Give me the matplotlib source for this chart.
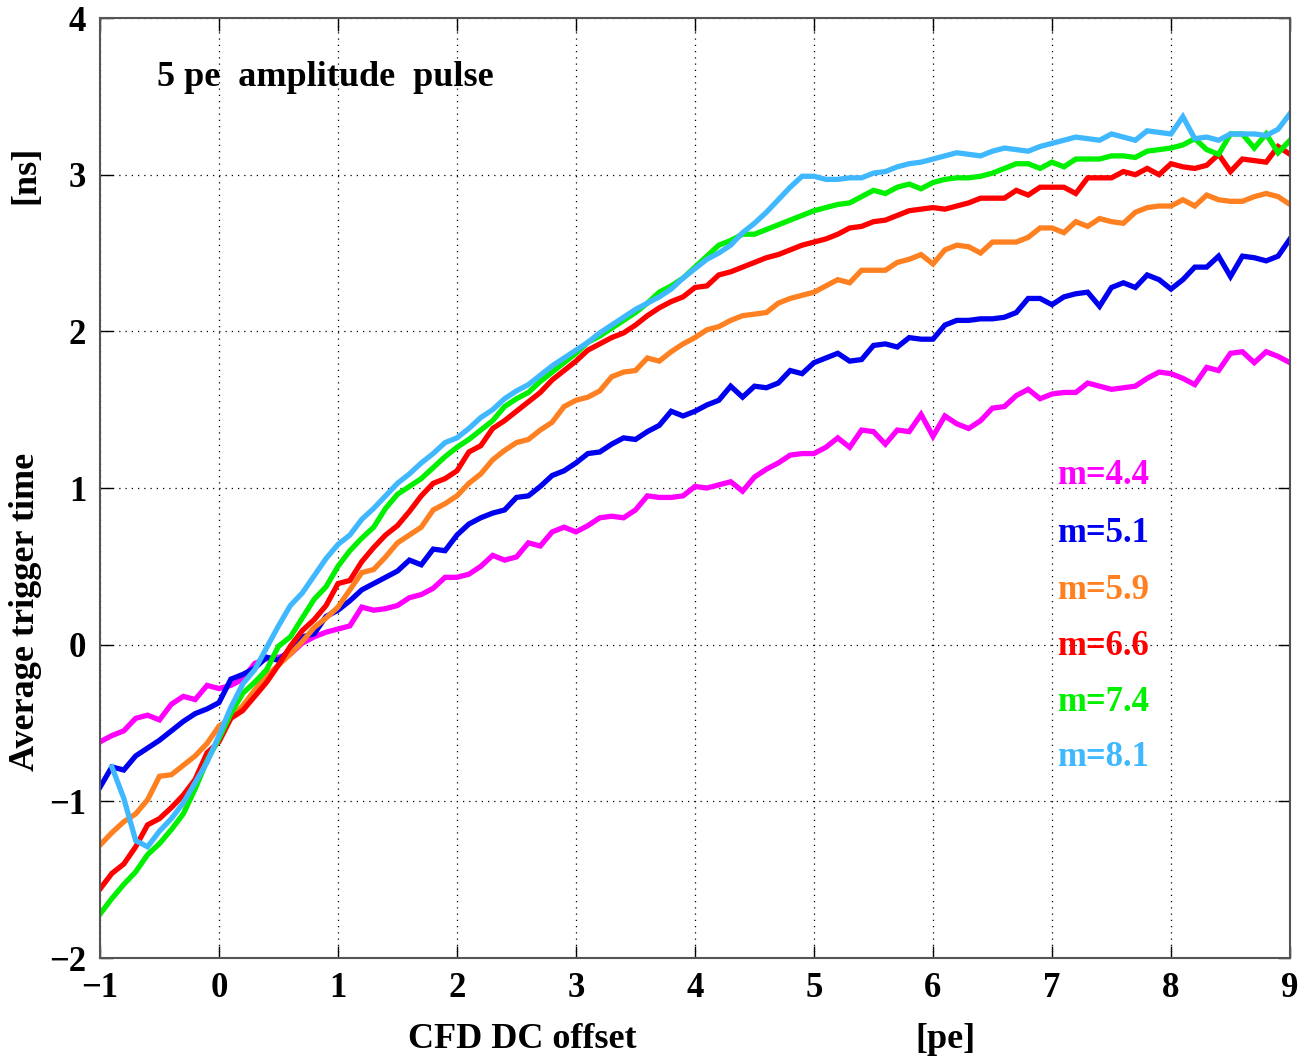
import numpy as np
import matplotlib
matplotlib.use("Agg")
import matplotlib.pyplot as plt

plt.rcParams['font.family'] = ['Liberation Serif', 'DejaVu Serif']
plt.rcParams['font.weight'] = 'bold'

# x grid: CFD DC offset from -1 to 9 in steps of 0.1
offset = np.round(np.arange(-1.0, 9.01, 0.1), 1)

m44 = [-0.62, -0.58, -0.55, -0.47, -0.45, -0.48, -0.38, -0.33, -0.35, -0.26,
       -0.28, -0.26, -0.22, -0.12, -0.09, -0.08, -0.06, 0.01, 0.05, 0.08,
       0.10, 0.12, 0.24, 0.22, 0.23, 0.25, 0.30, 0.32, 0.36, 0.43,
       0.43, 0.45, 0.50, 0.57, 0.54, 0.56, 0.65, 0.63, 0.72, 0.75,
       0.72, 0.76, 0.81, 0.82, 0.81, 0.86, 0.95, 0.94, 0.94, 0.95,
       1.01, 1.00, 1.02, 1.04, 0.98, 1.07, 1.12, 1.16, 1.21, 1.22,
       1.22, 1.26, 1.32, 1.26, 1.37, 1.36, 1.28, 1.37, 1.36, 1.47,
       1.33, 1.46, 1.41, 1.38, 1.43, 1.51, 1.52, 1.59, 1.63, 1.57,
       1.60, 1.61, 1.61, 1.67, 1.65, 1.63, 1.64, 1.65, 1.70, 1.74,
       1.73, 1.70, 1.66, 1.77, 1.75, 1.86, 1.87, 1.80, 1.87, 1.84,
       1.80]

m51 = [-0.91, -0.78, -0.80, -0.71, -0.66, -0.61, -0.55, -0.49, -0.44, -0.41,
       -0.37, -0.22, -0.19, -0.15, -0.08, -0.10, -0.03, 0.05, 0.07, 0.18,
       0.22, 0.28, 0.35, 0.39, 0.43, 0.47, 0.54, 0.51, 0.61, 0.60,
       0.70, 0.77, 0.81, 0.84, 0.86, 0.94, 0.95, 1.01, 1.08, 1.11,
       1.16, 1.22, 1.23, 1.28, 1.32, 1.31, 1.36, 1.40, 1.49, 1.46,
       1.49, 1.53, 1.56, 1.65, 1.58, 1.65, 1.64, 1.67, 1.75, 1.73,
       1.80, 1.83, 1.86, 1.81, 1.82, 1.91, 1.92, 1.90, 1.96, 1.95,
       1.95, 2.04, 2.07, 2.07, 2.08, 2.08, 2.09, 2.12, 2.21, 2.21,
       2.17, 2.22, 2.24, 2.25, 2.16, 2.28, 2.31, 2.28, 2.36, 2.33,
       2.27, 2.33, 2.41, 2.41, 2.48, 2.35, 2.48, 2.47, 2.45, 2.48,
       2.59]

m59 = [-1.28, -1.20, -1.13, -1.08, -0.99, -0.84, -0.83, -0.77, -0.71, -0.63,
       -0.52, -0.47, -0.39, -0.29, -0.20, -0.13, -0.06, 0.02, 0.11, 0.17,
       0.24, 0.35, 0.46, 0.48, 0.56, 0.65, 0.70, 0.75, 0.86, 0.90,
       0.95, 1.03, 1.09, 1.18, 1.24, 1.29, 1.31, 1.37, 1.42, 1.52,
       1.56, 1.58, 1.62, 1.71, 1.74, 1.75, 1.83, 1.81, 1.87, 1.92,
       1.96, 2.01, 2.03, 2.07, 2.10, 2.11, 2.12, 2.18, 2.21, 2.23,
       2.25, 2.29, 2.33, 2.31, 2.39, 2.39, 2.39, 2.44, 2.46, 2.49,
       2.43, 2.52, 2.55, 2.54, 2.50, 2.57, 2.57, 2.57, 2.60, 2.66,
       2.66, 2.63, 2.70, 2.67, 2.72, 2.70, 2.69, 2.76, 2.79, 2.80,
       2.80, 2.84, 2.80, 2.87, 2.84, 2.83, 2.83, 2.86, 2.88, 2.86,
       2.81]

m66 = [-1.56, -1.46, -1.40, -1.29, -1.15, -1.11, -1.04, -0.96, -0.86, -0.69,
       -0.62, -0.47, -0.42, -0.33, -0.24, -0.13, -0.01, 0.09, 0.16, 0.25,
       0.39, 0.41, 0.53, 0.62, 0.70, 0.76, 0.85, 0.95, 1.03, 1.06,
       1.11, 1.23, 1.27, 1.38, 1.43, 1.49, 1.55, 1.61, 1.69, 1.75,
       1.81, 1.88, 1.92, 1.96, 1.99, 2.04, 2.10, 2.15, 2.19, 2.22,
       2.28, 2.29, 2.36, 2.38, 2.41, 2.44, 2.47, 2.49, 2.52, 2.55,
       2.57, 2.59, 2.62, 2.66, 2.67, 2.70, 2.71, 2.74, 2.77, 2.78,
       2.79, 2.78, 2.80, 2.82, 2.85, 2.85, 2.85, 2.90, 2.87, 2.92,
       2.92, 2.92, 2.88, 2.98, 2.98, 2.98, 3.02, 3.00, 3.04, 3.00,
       3.07, 3.05, 3.04, 3.06, 3.13, 3.02, 3.10, 3.09, 3.08, 3.18,
       3.13]

m74 = [-1.72, -1.62, -1.53, -1.45, -1.34, -1.27, -1.18, -1.08, -0.92, -0.74,
       -0.60, -0.44, -0.31, -0.24, -0.16, -0.01, 0.05, 0.17, 0.29, 0.37,
       0.50, 0.60, 0.68, 0.75, 0.87, 0.96, 1.01, 1.06, 1.13, 1.20,
       1.26, 1.31, 1.37, 1.43, 1.52, 1.57, 1.61, 1.68, 1.74, 1.80,
       1.86, 1.93, 1.97, 2.02, 2.07, 2.12, 2.18, 2.25, 2.29, 2.34,
       2.41, 2.48, 2.55, 2.58, 2.62, 2.62, 2.65, 2.68, 2.71, 2.74,
       2.77, 2.79, 2.81, 2.82, 2.86, 2.90, 2.88, 2.92, 2.94, 2.91,
       2.95, 2.97, 2.98, 2.98, 2.99, 3.01, 3.04, 3.07, 3.07, 3.04,
       3.08, 3.05, 3.10, 3.10, 3.10, 3.12, 3.12, 3.11, 3.15, 3.16,
       3.17, 3.19, 3.23, 3.16, 3.13, 3.26, 3.26, 3.17, 3.26, 3.14,
       3.22]

m81 = [np.nan, -0.78, -0.98, -1.25, -1.29, -1.19, -1.11, -1.01, -0.88, -0.75,
       -0.58, -0.40, -0.25, -0.16, -0.02, 0.12, 0.25, 0.33, 0.44, 0.55,
       0.64, 0.70, 0.80, 0.87, 0.95, 1.03, 1.09, 1.16, 1.22, 1.29,
       1.32, 1.38, 1.45, 1.50, 1.57, 1.62, 1.66, 1.72, 1.78, 1.83,
       1.88, 1.93, 1.99, 2.04, 2.09, 2.14, 2.18, 2.22, 2.27, 2.34,
       2.40, 2.46, 2.50, 2.55, 2.63, 2.69, 2.76, 2.84, 2.92, 2.99,
       2.99, 2.97, 2.97, 2.98, 2.98, 3.01, 3.02, 3.05, 3.07, 3.08,
       3.10, 3.12, 3.14, 3.13, 3.12, 3.15, 3.17, 3.16, 3.15, 3.18,
       3.20, 3.22, 3.24, 3.23, 3.22, 3.26, 3.24, 3.22, 3.28, 3.27,
       3.26, 3.37, 3.23, 3.24, 3.22, 3.26, 3.26, 3.26, 3.25, 3.29,
       3.39]

labels = ["m=4.4", "m=5.1", "m=5.9", "m=6.6", "m=7.4", "m=8.1"]
colors = ["#ff00ff", "#0000f0", "#ff8020", "#ff0000", "#00f000", "#40b8ff"]
series = [m44, m51, m59, m66, m74, m81]

fig = plt.figure(figsize=(13, 10.6), dpi=100)
ax = fig.add_axes([0.0769, 0.0962, 0.9154, 0.8868])

# drawn in this order so light blue / green lie on top like the original
for y, c in zip(series, colors):
    ax.plot(offset, y, color=c, lw=3.8, solid_joinstyle='miter')

ax.set_xlim(-1, 9)
ax.set_ylim(-2, 4)
ax.set_xticks(range(-1, 10))
ax.set_yticks(range(-2, 5))
ax.grid(True, color='black', linestyle=(0, (1, 4)), linewidth=0.9)
ax.tick_params(direction='in', length=9, width=1, top=True, right=True,
               labelsize=25, pad=10)
for lab in ax.get_xticklabels() + ax.get_yticklabels():
    lab.set_fontweight('bold')
for sp in ax.spines.values():
    sp.set_color('#555555')
    sp.set_linewidth(1.5)

ax.text(-0.52, 3.62, "5 pe  amplitude  pulse", fontsize=26, fontweight='bold',
        va='center', ha='left')

label_y = [1.08, 0.71, 0.345, -0.01, -0.37, -0.72]
for t, c, yy in zip(labels, colors, label_y):
    ax.text(7.04, yy, t, color=c, fontsize=25, fontweight='bold',
            va='center', ha='left')

fig.text(522 / 1300, 1 - 1040 / 1060, "CFD DC offset", fontsize=26,
         fontweight='bold', ha='center', va='center')
fig.text(945 / 1300, 1 - 1040 / 1060, "[pe]", fontsize=26,
         fontweight='bold', ha='center', va='center')
fig.text(26 / 1300, 1 - 612 / 1060, "Average trigger time", fontsize=26,
         fontweight='bold', ha='center', va='center', rotation=90)
fig.text(26 / 1300, 1 - 175 / 1060, "[ns]", fontsize=26,
         fontweight='bold', ha='center', va='center', rotation=90)

fig.savefig("out.png", dpi=100)
